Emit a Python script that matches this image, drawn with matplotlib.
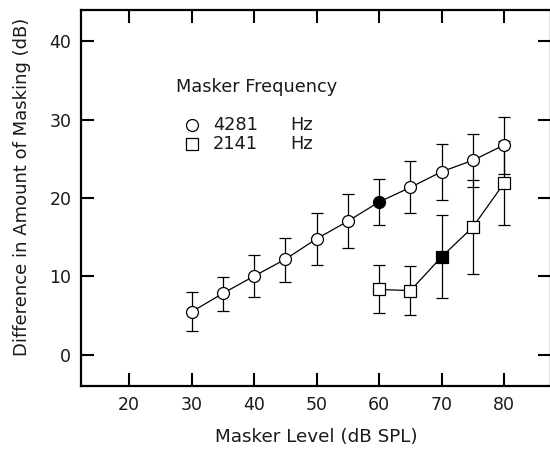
import matplotlib
matplotlib.use("Agg")
import matplotlib.pyplot as plt
import numpy as np

# Data: 4281 Hz masker (circles)
lvl_4281 = [30, 35, 40, 45, 50, 55, 60, 65, 70, 75, 80]
mean_4281 = [5.5, 7.85, 10.05, 12.2, 14.8, 17.05, 19.5, 21.35, 23.35, 24.8, 26.75]
low_4281 = [3.0, 5.65, 7.4, 9.35, 11.45, 13.6, 16.6, 18.05, 19.75, 21.4, 23.1]
high_4281 = [8.05, 9.95, 12.7, 14.9, 18.05, 20.5, 22.4, 24.75, 26.9, 28.2, 30.3]
filled_4281 = [False, False, False, False, False, False, True, False, False, False, False]

# Data: 2141 Hz masker (squares)
lvl_2141 = [60, 65, 70, 75, 80]
mean_2141 = [8.35, 8.2, 12.5, 16.3, 21.9]
low_2141 = [5.3, 5.1, 7.2, 10.3, 16.6]
high_2141 = [11.5, 11.3, 17.8, 22.3, 27.2]
filled_2141 = [False, False, True, False, False]

xticks = [20, 30, 40, 50, 60, 70, 80]
yticks = [0, 10, 20, 30, 40]

plt.rcParams['font.family'] = ['DejaVu Sans']

fig = plt.figure(figsize=(5.5, 4.49), dpi=100)
ax = fig.add_axes([81/550, (449-386)/449, 470/550, 376/449])

ms = 8.6
mew = 0.9
lw = 0.9
txtc = '#1a1a1a'


def draw_series(x, m, lo, hi, filled, marker, zbase):
    x = np.array(x); m = np.array(m); lo = np.array(lo); hi = np.array(hi)
    yerr = np.vstack([m - lo, hi - m])
    ax.errorbar(x, m, yerr=yerr, fmt='none', ecolor='black', elinewidth=lw,
                capsize=4.0, capthick=lw, zorder=zbase)
    ax.plot(x, m, '-', color='black', lw=lw, zorder=zbase + 0.5)
    fc = ['black' if f else 'white' for f in filled]
    for xi, mi, c in zip(x, m, fc):
        ax.plot([xi], [mi], marker=marker, ms=ms, mfc=c, mec='black', mew=mew,
                ls='none', zorder=zbase + 1)


draw_series(lvl_2141, mean_2141, low_2141, high_2141, filled_2141, 's', 2)
draw_series(lvl_4281, mean_4281, low_4281, high_4281, filled_4281, 'o', 4)

ax.set_xlim(12.3, 87.5)
ax.set_ylim(-3.95, 43.95)
ax.set_xticks(xticks)
ax.set_yticks(yticks)
ax.tick_params(direction='in', length=9.5, width=1.5, top=True, right=True,
               labelsize=12.5, pad=7, labelcolor=txtc)
for s in ax.spines.values():
    s.set_linewidth(1.6)

# Legend (manual)
fs_leg = 12.8
ax.text((176-81)/470, (386-87)/376, 'Masker Frequency', transform=ax.transAxes,
        fontsize=fs_leg, ha='left', va='center', color=txtc)
ax.plot([(191.7-81)/470], [(386-125)/376], marker='o', ms=ms, mfc='white',
        mec='black', mew=mew, transform=ax.transAxes, ls='none')
ax.plot([(191.7-81)/470], [(386-144)/376], marker='s', ms=ms*0.95, mfc='white',
        mec='black', mew=mew, transform=ax.transAxes, ls='none')
ax.text((213-81)/470, (386-125)/376, '4281', transform=ax.transAxes,
        fontsize=fs_leg, ha='left', va='center', color=txtc)
ax.text((290-81)/470, (386-125)/376, 'Hz', transform=ax.transAxes,
        fontsize=fs_leg, ha='left', va='center', color=txtc)
ax.text((213-81)/470, (386-144)/376, '2141', transform=ax.transAxes,
        fontsize=fs_leg, ha='left', va='center', color=txtc)
ax.text((290-81)/470, (386-144)/376, 'Hz', transform=ax.transAxes,
        fontsize=fs_leg, ha='left', va='center', color=txtc)

fig.text(316/550, 1 - 437/449, 'Masker Level (dB SPL)', fontsize=13.2,
         ha='center', va='center', color=txtc)
fig.text(22/550, 1 - 187/449, 'Difference in Amount of Masking (dB)', fontsize=13,
         ha='center', va='center', rotation=90, color=txtc)

fig.savefig('out.png', dpi=100)
